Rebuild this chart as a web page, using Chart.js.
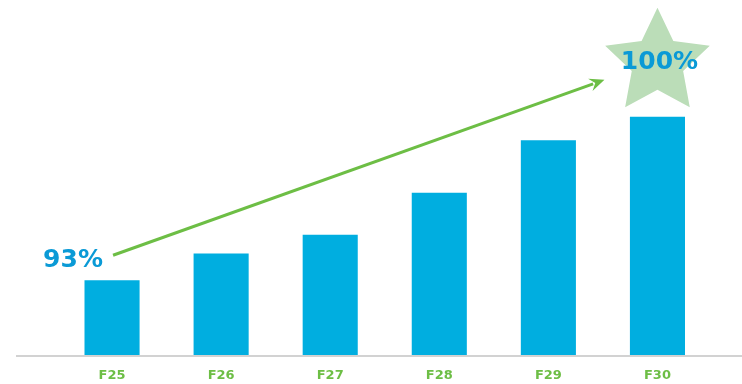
<!DOCTYPE html>
<html>
<head>
<meta charset="utf-8">
<script src="https://cdn.jsdelivr.net/npm/chart.js@4/dist/chart.umd.min.js"></script>
<style>
  html, body { margin: 0; padding: 0; background: #ffffff; }
  #wrap { width: 742px; height: 384px; position: relative; }
</style>
</head>
<body>
<div id="wrap"><canvas id="c" width="742" height="384"></canvas></div>
<script>
// ---- data ----
const categories = ['F25', 'F26', 'F27', 'F28', 'F29', 'F30'];
const values = [93.0, 94.15, 94.95, 96.75, 99.0, 100.0];
const startLabel = '93%';
const endLabel = '100%';
const yMin = 89.8;
const yMax = 105.0;

const BAR = '#00AEE0';
const TEXT_BLUE = '#0A9AD6';
const GREEN = '#6DBE45';
const STAR = '#BBDDB8';
const BASE = '#D2D2D2';
const FONT = "'DejaVu Sans', 'Open Sans', sans-serif";

const decorPlugin = {
  id: 'decor',
  beforeDatasetsDraw(chart) {
    const ctx = chart.ctx;
    const x = chart.scales.x, y = chart.scales.y;
    const last = categories.length - 1;
    const sx = x.getPixelForValue(last);
    const sy = y.getPixelForValue(values[last]) - 54;
    const R = 55, r = 27;
    ctx.save();
    ctx.beginPath();
    for (let i = 0; i < 10; i++) {
      const rad = i % 2 === 0 ? R : r;
      const ang = -Math.PI / 2 + i * Math.PI / 5;
      const px = sx + rad * Math.cos(ang), py = sy + rad * Math.sin(ang);
      if (i === 0) ctx.moveTo(px, py); else ctx.lineTo(px, py);
    }
    ctx.closePath();
    ctx.fillStyle = STAR;
    ctx.fill();
    ctx.restore();
  },
  afterDatasetsDraw(chart) {
    const ctx = chart.ctx;
    const x = chart.scales.x, y = chart.scales.y;
    const area = chart.chartArea;
    const last = categories.length - 1;
    ctx.save();
    // baseline
    ctx.strokeStyle = BASE;
    ctx.lineWidth = 2;
    ctx.beginPath();
    ctx.moveTo(16, area.bottom + 1);
    ctx.lineTo(chart.width, area.bottom + 1);
    ctx.stroke();

    // arrow
    const x0 = x.getPixelForValue(0) + 1;
    const y0 = y.getPixelForValue(values[0]) - 25;
    const sx = x.getPixelForValue(last);
    const sy = y.getPixelForValue(values[last]) - 54;
    const x1 = sx - 53;
    const y1 = sy + 17;
    const ang = Math.atan2(y1 - y0, x1 - x0);
    const headLen = 15, headW = 6.5;
    const bx = x1 - headLen * 0.8 * Math.cos(ang);
    const by = y1 - headLen * 0.8 * Math.sin(ang);
    ctx.strokeStyle = GREEN;
    ctx.lineWidth = 3;
    ctx.beginPath();
    ctx.moveTo(x0, y0);
    ctx.lineTo(bx, by);
    ctx.stroke();
    const hx = x1 - headLen * Math.cos(ang), hy = y1 - headLen * Math.sin(ang);
    const nx = -Math.sin(ang), ny = Math.cos(ang);
    ctx.fillStyle = GREEN;
    ctx.beginPath();
    ctx.moveTo(x1, y1);
    ctx.lineTo(hx + nx * headW, hy + ny * headW);
    ctx.lineTo(x1 - headLen * 0.65 * Math.cos(ang), y1 - headLen * 0.65 * Math.sin(ang));
    ctx.lineTo(hx - nx * headW, hy - ny * headW);
    ctx.closePath();
    ctx.fill();

    // labels
    ctx.fillStyle = TEXT_BLUE;
    ctx.font = "bold 25px " + FONT;
    ctx.textAlign = 'center';
    ctx.textBaseline = 'middle';
    ctx.fillText(startLabel, x.getPixelForValue(0) - 39, y.getPixelForValue(values[0]) - 20);
    ctx.fillText(endLabel, sx + 2, sy + 0);
    ctx.restore();
  }
};

new Chart(document.getElementById('c'), {
  type: 'bar',
  data: {
    labels: categories,
    datasets: [{
      data: values,
      backgroundColor: BAR,
      borderWidth: 0,
      categoryPercentage: 1.0,
      barPercentage: 0.505
    }]
  },
  options: {
    responsive: false,
    animation: false,
    layout: { padding: { left: 57.5, right: 30, top: 0, bottom: 0 } },
    plugins: { legend: { display: false }, tooltip: { enabled: false } },
    scales: {
      x: {
        grid: { display: false, drawTicks: false },
        border: { display: false },
        ticks: { color: GREEN, font: { family: FONT, size: 13, weight: 'bold' }, padding: 13 },
        afterFit(scale) { scale.height = 29; }
      },
      y: {
        display: false,
        min: yMin,
        max: yMax
      }
    }
  },
  plugins: [decorPlugin]
});
</script>
</body>
</html>
